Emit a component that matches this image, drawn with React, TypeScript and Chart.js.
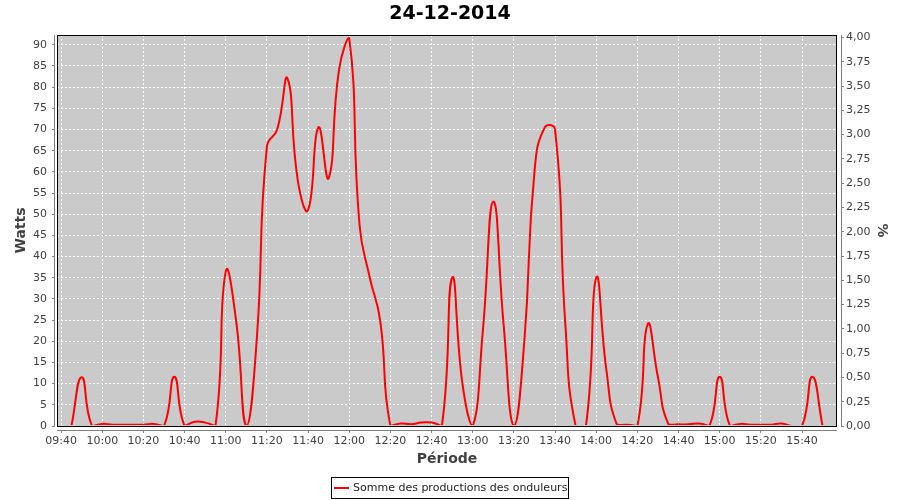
import React, { useEffect, useRef } from 'react';
import { Chart, registerables } from 'chart.js';

Chart.register(...registerables);

const CHART_TITLE = '24-12-2014';
const SERIES_NAME = 'Somme des productions des onduleurs';
const Y_TITLE = 'Watts';
const X_TITLE = 'Période';
const Y2_TITLE = '%';

const TIMES = [
  '09:45', '09:50', '09:55',
  '10:00', '10:05', '10:10', '10:15', '10:20', '10:25', '10:30', '10:35', '10:40', '10:45', '10:50', '10:55',
  '11:00', '11:05', '11:10', '11:15', '11:20', '11:25', '11:30', '11:35', '11:40', '11:45', '11:50', '11:55',
  '12:00', '12:05', '12:10', '12:15', '12:20', '12:25', '12:30', '12:35', '12:40', '12:45', '12:50', '12:55',
  '13:00', '13:05', '13:10', '13:15', '13:20', '13:25', '13:30', '13:35', '13:40', '13:45', '13:50', '13:55',
  '14:00', '14:05', '14:10', '14:15', '14:20', '14:25', '14:30', '14:35', '14:40', '14:45', '14:50', '14:55',
  '15:00', '15:05', '15:10', '15:15', '15:20', '15:25', '15:30', '15:35', '15:40', '15:45', '15:50',
];

const WATTS = [
  0, 11.5, 0,
  0.5, 0.3, 0.3, 0.3, 0.3, 0.5, 0, 11.6, 0, 1.0, 0.8, 0,
  36.5, 25, 0, 20, 66, 70, 82, 58, 51, 70.5, 58.5, 84,
  91.5, 47.5, 35, 25, 0, 0.6, 0.4, 0.8, 0.8, 0, 35, 10,
  0, 23, 53, 24, 0, 19.5, 60, 70.5, 70, 24, 0, 0,
  35, 13, 0.4, 0.3, 0, 24, 11.5, 0.5, 0.4, 0.4, 0.6, 0,
  11.6, 0, 0.5, 0.3, 0.3, 0.3, 0.6, 0, 0, 11.6, 0,
];

const X_TICK_LABELS = [
  '09:40', '10:00', '10:20', '10:40', '11:00', '11:20', '11:40', '12:00', '12:20', '12:40',
  '13:00', '13:20', '13:40', '14:00', '14:20', '14:40', '15:00', '15:20', '15:40',
];
const WATT_TICKS = [0, 5, 10, 15, 20, 25, 30, 35, 40, 45, 50, 55, 60, 65, 70, 75, 80, 85, 90];
const PERCENT_TICKS = [0, 0.25, 0.5, 0.75, 1, 1.25, 1.5, 1.75, 2, 2.25, 2.5, 2.75, 3, 3.25, 3.5, 3.75, 4];

const X_MIN = '09:38';
const X_MAX = '15:57';
const WATT_MAX = 92.3;
const PERCENT_MAX = 4.025;

const FONT = '"DejaVu Sans", Verdana, sans-serif';
const TEXT_COLOR = '#404040';
const AXIS_COLOR = '#808080';
const PLOT_BG = '#cacaca';

const toMin = (t: string) => {
  const [h, m] = t.split(':').map(Number);
  return h * 60 + m;
};
const fmtTime = (v: number) => {
  const h = Math.floor(v / 60);
  const m = Math.round(v - h * 60);
  return `${String(h).padStart(2, '0')}:${String(m).padStart(2, '0')}`;
};
const align = (p: number) => Math.round(p - 0.5) + 0.5;

const framePlugin = {
  id: 'jfreeFrame',
  beforeDraw(chart: any) {
    const { ctx, chartArea: a } = chart;
    ctx.save();
    ctx.fillStyle = '#ffffff';
    ctx.fillRect(0, 0, chart.width, chart.height);
    ctx.fillStyle = PLOT_BG;
    ctx.fillRect(a.left, a.top, a.right - a.left, a.bottom - a.top);
    ctx.restore();
  },
  afterDatasetsDraw(chart: any) {
    const { ctx, chartArea: a, scales } = chart;
    ctx.save();
    ctx.lineWidth = 1;
    ctx.setLineDash([]);
    ctx.strokeStyle = '#000000';
    ctx.strokeRect(a.left + 0.5, a.top + 0.5, a.right - a.left - 1, a.bottom - a.top);
    ctx.strokeStyle = AXIS_COLOR;
    ctx.beginPath();
    const lx = a.left - 2.5;
    ctx.moveTo(lx, a.top);
    ctx.lineTo(lx, a.bottom + 1);
    scales.y.ticks.forEach((t: any) => {
      const yp = align(scales.y.getPixelForValue(t.value));
      ctx.moveTo(lx - 2.5, yp);
      ctx.lineTo(lx, yp);
    });
    const rx = a.right + 4.5;
    ctx.moveTo(rx, a.top);
    ctx.lineTo(rx, a.bottom + 1);
    scales.y1.ticks.forEach((t: any) => {
      const yp = align(scales.y1.getPixelForValue(t.value));
      ctx.moveTo(rx, yp);
      ctx.lineTo(rx + 2.5, yp);
    });
    const by = a.bottom + 4.5;
    ctx.moveTo(a.left, by);
    ctx.lineTo(a.right, by);
    scales.x.ticks.forEach((t: any) => {
      const xp = align(scales.x.getPixelForValue(t.value));
      ctx.moveTo(xp, by);
      ctx.lineTo(xp, by + 2.5);
    });
    ctx.stroke();
    ctx.restore();
  },
  afterDraw(chart: any) {
    const { ctx } = chart;
    const ds = chart.data.datasets[0];
    ctx.save();
    ctx.font = `11px ${FONT}`;
    const tw = ctx.measureText(ds.label).width;
    const boxW = Math.round(tw + 23);
    const bx = Math.round(449 - boxW / 2) + 0.5;
    const by = 477.5;
    const bh = 21;
    ctx.strokeStyle = '#000000';
    ctx.lineWidth = 1;
    ctx.strokeRect(bx, by, boxW, bh);
    const cy = by + bh / 2;
    ctx.strokeStyle = ds.borderColor;
    ctx.lineWidth = 2;
    ctx.beginPath();
    ctx.moveTo(bx + 2.5, cy);
    ctx.lineTo(bx + 17.5, cy);
    ctx.stroke();
    ctx.fillStyle = '#222222';
    ctx.textAlign = 'left';
    ctx.textBaseline = 'middle';
    ctx.fillText(ds.label, bx + 21.5, cy + 0.5);
    ctx.restore();
  },
};

export default function App() {
  const ref = useRef<HTMLCanvasElement>(null);

  useEffect(() => {
    const canvas = ref.current;
    if (!canvas) return;
    const points = TIMES.map((t, i) => ({ x: toMin(t), y: WATTS[i] }));
    const tickFont = { family: FONT, size: 11 };
    const titleFont = { family: FONT, size: 14, weight: 'bold' as const, lineHeight: 1.2 };

    const chart = new Chart(canvas, {
      type: 'line',
      data: {
        datasets: [
          {
            label: SERIES_NAME,
            data: points,
            borderColor: '#ff0000',
            borderWidth: 2,
            pointRadius: 0,
            tension: 0.5,
            fill: false,
            yAxisID: 'y',
            clip: { left: 0, top: 0, right: 0, bottom: -1 } as any,
          },
        ],
      },
      options: {
        responsive: false,
        animation: false,
        devicePixelRatio: 1,
        layout: { padding: 0 },
        plugins: {
          legend: { display: false },
          tooltip: { enabled: false },
          title: {
            display: true,
            text: CHART_TITLE,
            color: '#000000',
            font: { family: FONT, size: 19, weight: 'bold', lineHeight: 1.2 },
            padding: { top: 3, bottom: 9.2 },
          },
        },
        scales: {
          x: {
            type: 'linear',
            position: 'bottom',
            min: toMin(X_MIN),
            max: toMin(X_MAX),
            afterBuildTicks: (s: any) => {
              s.ticks = X_TICK_LABELS.map((l) => ({ value: toMin(l) }));
            },
            afterFit: (s: any) => {
              s.height = 74;
            },
            ticks: {
              autoSkip: false,
              maxRotation: 0,
              minRotation: 0,
              padding: 9,
              color: TEXT_COLOR,
              font: tickFont,
              callback: (v: any) => fmtTime(Number(v)),
            },
            grid: { color: '#ffffff', lineWidth: 1, drawTicks: false },
            border: { display: false, dash: [2, 2] },
            title: {
              display: true,
              text: X_TITLE,
              color: TEXT_COLOR,
              font: titleFont,
              padding: { top: 0, bottom: 32.6 },
            },
          },
          y: {
            type: 'linear',
            position: 'left',
            min: 0,
            max: WATT_MAX,
            afterBuildTicks: (s: any) => {
              s.ticks = WATT_TICKS.map((v) => ({ value: v }));
            },
            afterFit: (s: any) => {
              s.width = 57;
            },
            ticks: {
              padding: 10,
              color: TEXT_COLOR,
              font: tickFont,
              callback: (v: any) => String(v),
            },
            grid: { color: '#ffffff', lineWidth: 1, drawTicks: false },
            border: { display: false, dash: [2, 2] },
            title: {
              display: true,
              text: Y_TITLE,
              color: TEXT_COLOR,
              font: titleFont,
              padding: { top: 13, bottom: 0 },
            },
          },
          y1: {
            type: 'linear',
            position: 'right',
            min: 0,
            max: PERCENT_MAX,
            afterBuildTicks: (s: any) => {
              s.ticks = PERCENT_TICKS.map((v) => ({ value: v }));
            },
            afterFit: (s: any) => {
              s.width = 63;
            },
            ticks: {
              padding: 9,
              color: TEXT_COLOR,
              font: tickFont,
              callback: (v: any) => Number(v).toFixed(2).replace('.', ','),
            },
            grid: { display: false, drawTicks: false },
            border: { display: false },
            title: {
              display: true,
              text: Y2_TITLE,
              color: TEXT_COLOR,
              font: titleFont,
              padding: { top: 10, bottom: 0 },
            },
          },
        },
      } as any,
      plugins: [framePlugin],
    });

    return () => chart.destroy();
  }, []);

  return (
    <div style={{ position: 'absolute', left: 0, top: 0, width: 900, height: 500, background: '#ffffff' }}>
      <canvas ref={ref} width={900} height={500} style={{ display: 'block', width: 900, height: 500 }} />
    </div>
  );
}
